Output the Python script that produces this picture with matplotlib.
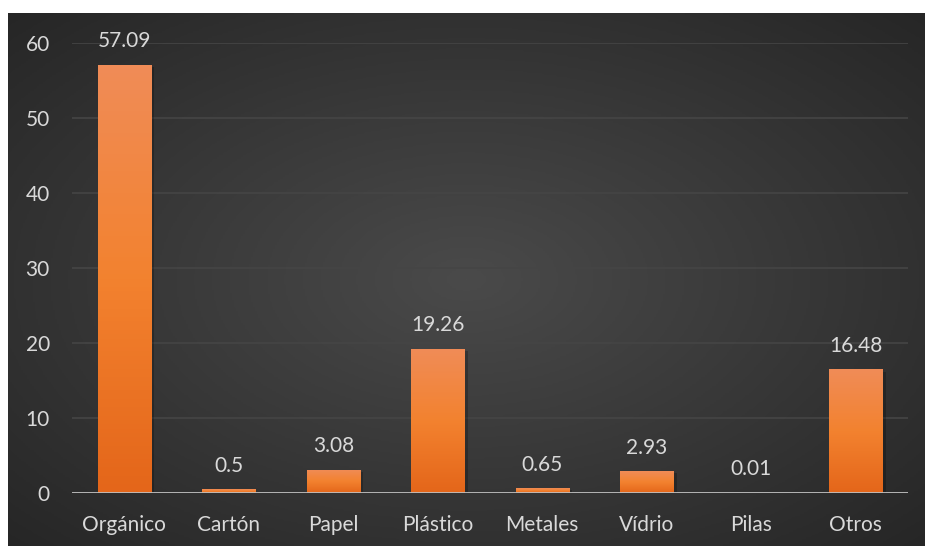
import numpy as np
import matplotlib.pyplot as plt
from matplotlib.colors import LinearSegmentedColormap

categorias = ["Orgánico", "Cartón", "Papel", "Plástico", "Metales", "Vídrio", "Pilas", "Otros"]
valores = [57.09, 0.5, 3.08, 19.26, 0.65, 2.93, 0.01, 16.48]
etiquetas = ["57.09", "0.5", "3.08", "19.26", "0.65", "2.93", "0.01", "16.48"]

plt.rcParams["font.family"] = ["Lato", "DejaVu Sans"]
txt = "#d9d9d9"
fs = 15

fig = plt.figure(figsize=(9.25, 5.46), dpi=100)
fig.patch.set_facecolor("white")

# fondo oscuro con degradado radial
bg = fig.add_axes([8 / 925, 0, 917 / 925, 533 / 546])
yy, xx = np.mgrid[0:1:300j, 0:1:500j]
r = np.sqrt(((xx - 0.5) / 0.75) ** 2 + ((yy - 0.5) / 0.75) ** 2)
bgcmap = LinearSegmentedColormap.from_list("bg", ["#4a4a4a", "#262626"])
bg.imshow(r, cmap=bgcmap, vmin=0, vmax=0.95, aspect="auto", extent=[0, 1, 0, 1])
bg.axis("off")

ax = fig.add_axes([72 / 925, 1 - 493 / 546, 836 / 925, 450 / 546])
ax.patch.set_alpha(0)
x = np.arange(len(categorias))
bars = ax.bar(x, valores, width=0.51, color="#ec7a30", zorder=3)

barcmap = LinearSegmentedColormap.from_list("bar", ["#e4661a", "#f3822f", "#f08c57"])
grad = np.linspace(0, 1, 100).reshape(-1, 1)
for b in bars:
    # sombra
    ax.bar(b.get_x() + b.get_width() / 2 + 0.03, b.get_height(), width=b.get_width(),
           bottom=-0.3, color="black", alpha=0.22, zorder=2)
    im = ax.imshow(grad, cmap=barcmap, origin="lower", aspect="auto", zorder=3.5,
                   extent=[b.get_x(), b.get_x() + b.get_width(), 0, max(b.get_height(), 0.01)])
    im.set_clip_path(b)

for xi, v, lab in zip(x, valores, etiquetas):
    ax.text(xi, v + 1.8, lab, ha="center", va="bottom", color=txt, fontsize=fs)

ax.set_xlim(-0.5, 7.5)
ax.set_ylim(0, 60)
ax.set_yticks(range(0, 61, 10))
ax.set_xticks(x)
ax.set_xticklabels(categorias)
ax.tick_params(axis="both", length=0, colors=txt, labelsize=fs)
ax.tick_params(axis="y", pad=16)
ax.tick_params(axis="x", pad=16)
ax.grid(axis="y", color="#454545", linewidth=1.2, zorder=0)
for s in ax.spines.values():
    s.set_visible(False)
ax.axhline(0, color="#bfbfbf", linewidth=2, zorder=4)

fig.savefig("out.png", dpi=100)
